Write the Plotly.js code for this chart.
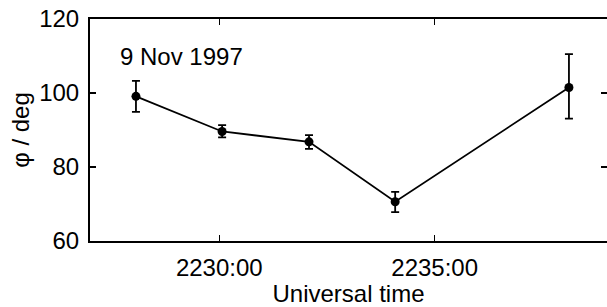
<!DOCTYPE html>
<html><head><meta charset="utf-8">
<script src="https://cdn.plot.ly/plotly-3.0.1.min.js"></script>
<style>html,body{margin:0;padding:0;background:#fff}</style>
</head><body>
<div id="chart" style="width:607px;height:307px"></div>
<script>
const times = ['1997-11-09 22:28:04','1997-11-09 22:30:04','1997-11-09 22:32:05','1997-11-09 22:34:05','1997-11-09 22:38:07'];
const phi = [99.1, 89.6, 86.8, 70.6, 101.5];
const errPlus = [4.2, 1.7, 1.8, 2.7, 9.0];
const errMinus = [4.2, 1.6, 1.9, 2.8, 8.4];
const xTickVals = ['1997-11-09 22:30:00','1997-11-09 22:35:00'];
const xRange = ['1997-11-09 22:27:00','1997-11-09 22:39:00'];
const yTickVals = [60, 80, 100, 120];

const font = {family: 'Liberation Sans, Arial, sans-serif', size: 24, color: '#000'};
Plotly.newPlot('chart', [{
  x: times, y: phi, type: 'scatter', mode: 'lines+markers',
  line: {color: '#000', width: 1.8},
  marker: {color: '#000', size: 9},
  error_y: {type: 'data', symmetric: false, array: errPlus, arrayminus: errMinus, color: '#000', thickness: 1.8, width: 4}
}, {
  x: [], y: [], yaxis: 'y2', type: 'scatter', hoverinfo: 'skip'
}], {
  width: 607, height: 307,
  margin: {l: 90, r: 0, t: 19, b: 66},
  paper_bgcolor: '#fff', plot_bgcolor: '#fff',
  showlegend: false,
  font: font,
  xaxis: {type: 'date', range: xRange, tickvals: xTickVals, tickformat: '%H%M:%S',
    ticks: 'inside', ticklen: 6, tickwidth: 1.5, tickcolor: '#000',
    showline: true, linecolor: '#000', linewidth: 2, mirror: 'ticks', showgrid: false, zeroline: false,
    tickfont: font, ticklabelstandoff: 4,
    title: {text: 'Universal time', font: font, standoff: 2}},
  yaxis: {range: [60, 120], tickvals: yTickVals,
    ticks: 'inside', ticklen: 6, tickwidth: 1.5, tickcolor: '#000',
    showline: true, linecolor: '#000', linewidth: 2, mirror: false, showgrid: false, zeroline: false,
    tickfont: font, ticklabelstandoff: 4,
    title: {text: 'φ / deg', font: font, standoff: 3}},
  yaxis2: {overlaying: 'y', side: 'right', range: [60, 120], tickvals: yTickVals,
    ticks: 'inside', ticklen: 6, tickwidth: 1.5, tickcolor: '#000',
    showline: false, showgrid: false, zeroline: false, showticklabels: false},
  annotations: [{xref: 'paper', yref: 'paper', x: 0.055, y: 0.83, xanchor: 'left', yanchor: 'middle',
    text: '9 Nov 1997', showarrow: false, font: font}]
}, {displayModeBar: false, staticPlot: true});
</script>
</body></html>
